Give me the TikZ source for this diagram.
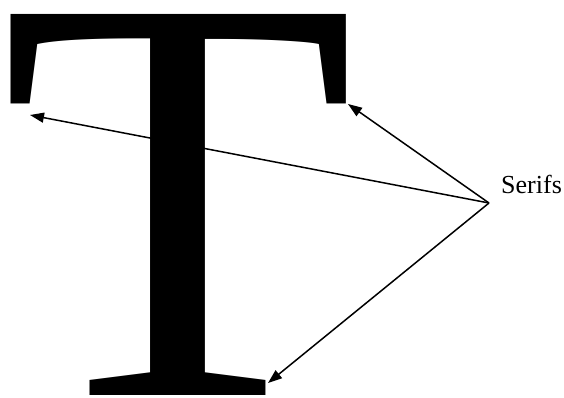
\documentclass[tikz,border=0pt]{standalone}
\usepackage{fontspec}
\usepackage{tikz}
\usetikzlibrary{arrows.meta, positioning}
\newfontfamily\timesfont{Liberation Serif}

\begin{document}
\begin{tikzpicture}[
    x=1pt, y=-1pt,
    letter/.style={inner sep=0pt, font=\fontsize{582}{582}\selectfont\timesfont},
    lbl/.style={inner sep=0pt, font=\fontsize{26}{26}\selectfont\timesfont},
    arrow/.style={-{Triangle[length=14pt, width=10pt]}, line width=1.5pt}
]
\useasboundingbox (0,0) rectangle (564,397);

% The letter
\node[letter, anchor=base west] (tee) at (0,395) {T};

% Label
\node[lbl, anchor=base west] (serifs) at (501,193) {Serifs};
\coordinate (hub) at (489,203);

% Serif ends
\coordinate (lserif) at (30,115);
\coordinate (rserif) at (348,104);
\coordinate (bserif) at (268,383);

% Pointers
\draw[arrow] (hub) -- (lserif);
\draw[arrow] (hub) -- (rserif);
\draw[arrow] (hub) -- (bserif);

\end{tikzpicture}
\end{document}
